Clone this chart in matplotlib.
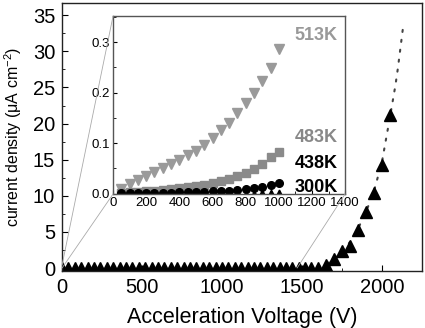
import matplotlib
matplotlib.use("Agg")
import matplotlib.pyplot as plt
from matplotlib.patches import ConnectionPatch
from matplotlib.ticker import MultipleLocator

plt.rcParams["font.family"] = ["Liberation Sans", "DejaVu Sans"]
plt.rcParams["mathtext.fontset"] = "custom"
plt.rcParams["mathtext.rm"] = "Liberation Sans"
plt.rcParams["mathtext.it"] = "Liberation Sans:italic"

# main curve: current density vs acceleration voltage
volt = [0, 40, 80, 120, 160, 200, 240, 280, 320, 360, 400, 440, 480, 520, 560,
        600, 640, 680, 720, 760, 800, 840, 880, 920, 960, 1000, 1040, 1080,
        1120, 1160, 1200, 1240, 1280, 1320, 1360, 1400, 1440, 1480, 1520,
        1560, 1600, 1650, 1700, 1750, 1800, 1850, 1900, 1950, 2000, 2050]
current = [0.0] * 41 + [0.4, 1.25, 2.4, 3.0, 5.3, 7.8, 10.4, 14.3, 21.2]

# fitted curve (dotted)
fit_volt = [1600, 1650, 1700, 1750, 1800, 1850, 1900, 1950, 2000, 2050,
            2085, 2100, 2133]
fit_current = [0.1, 0.5, 1.2, 2.2, 3.6, 5.4, 7.7, 10.6, 14.6, 20.8,
               25.3, 27.6, 33.4]

# inset: low-voltage region at several temperatures
inset_volt = [50, 100, 150, 200, 250, 300, 350, 400, 450, 500,
              550, 600, 650, 700, 750, 800, 850, 900, 950, 1000]
j_513 = [0.008, 0.019, 0.026, 0.034, 0.043, 0.051, 0.059, 0.067, 0.076, 0.085,
         0.097, 0.110, 0.125, 0.139, 0.160, 0.179, 0.199, 0.223, 0.249, 0.287]
j_483 = [0.001, 0.002, 0.003, 0.004, 0.005, 0.006, 0.008, 0.010, 0.012, 0.014,
         0.017, 0.020, 0.024, 0.029, 0.034, 0.041, 0.049, 0.059, 0.072, 0.082]
j_438 = [0.0005, 0.0007, 0.0009, 0.0011, 0.0013, 0.0015, 0.0018, 0.0021, 0.0025, 0.003,
         0.0035, 0.004, 0.0046, 0.0055, 0.0066, 0.008, 0.011, 0.0135, 0.017, 0.021]
j_300 = [0.0002, 0.0002, 0.0003, 0.0003, 0.0004, 0.0004, 0.0005, 0.0005, 0.0006, 0.0007,
         0.0008, 0.0009, 0.001, 0.0011, 0.0013, 0.0015, 0.0018, 0.0021, 0.0025, 0.003]
temps = ["513K", "483K", "438K", "300K"]

fig = plt.figure(figsize=(4.25, 3.28), dpi=100)
ax = fig.add_axes([0.146, 0.174, 0.8465, 0.817])

ax.plot(fit_volt, fit_current, linestyle=(0, (1, 3.8)), color="#444444", lw=1.5,
        dash_capstyle="round")
ax.plot(volt, current, "^", color="black", ms=8.5, mec="black")

ax.set_xlim(0, 2250)
ax.set_ylim(-0.4, 36.7)
ax.xaxis.set_major_locator(MultipleLocator(500))
ax.xaxis.set_minor_locator(MultipleLocator(250))
ax.yaxis.set_major_locator(MultipleLocator(5))
ax.yaxis.set_minor_locator(MultipleLocator(2.5))
ax.tick_params(which="both", direction="in", labelsize=14.5)
ax.tick_params(which="major", length=4, pad=5)
ax.tick_params(which="minor", length=2.5)
ax.set_xlabel("Acceleration Voltage (V)", fontsize=15.5, labelpad=7)
ax.set_ylabel("current density (μA cm$^{-2}$)", fontsize=11.5, labelpad=6)
for s in ax.spines.values():
    s.set_color("#222222")
    s.set_linewidth(1.0)

axin = fig.add_axes([0.266, 0.4085, 0.546, 0.5425])
axin.plot(inset_volt, j_513, "v", color="#9a9a9a", ms=7)
axin.plot(inset_volt, j_483, "s", color="#8a8a8a", ms=5.5)
axin.plot(inset_volt, j_438, "o", color="black", ms=5.5)
axin.plot(inset_volt, j_300, "^", color="black", ms=3.5)
axin.set_xlim(0, 1400)
axin.set_ylim(-0.001, 0.352)
axin.xaxis.set_major_locator(MultipleLocator(200))
axin.xaxis.set_minor_locator(MultipleLocator(100))
axin.yaxis.set_major_locator(MultipleLocator(0.1))
axin.yaxis.set_minor_locator(MultipleLocator(0.05))
axin.tick_params(which="both", direction="in", labelsize=9.5)
axin.tick_params(which="major", length=3, pad=2)
axin.tick_params(which="minor", length=2)
axin.yaxis.set_major_formatter(plt.FormatStrFormatter("%.1f"))
for s in axin.spines.values():
    s.set_color("#555555")
    s.set_linewidth(1.0)

label_pos = [0.893, 0.320, 0.169, 0.039]
label_col = ["#999999", "#888888", "black", "black"]
for name, yp, c in zip(temps, label_pos, label_col):
    axin.text(0.968, yp, name, transform=axin.transAxes, ha="right", va="center",
              fontsize=13, fontweight="bold", color=c)

# zoom indicator lines from the main axes to the inset corners
for xa, ya, xb, yb in [(0, 0.4, 0, 1), (0, 0.0, 0, 0), (1470, 0.0, 1, 0)]:
    con = ConnectionPatch(xyA=(xa, ya), coordsA=ax.transData,
                          xyB=(xb, yb), coordsB=axin.transAxes,
                          color="#aaaaaa", lw=0.6)
    fig.add_artist(con)

fig.savefig("out.png", dpi=100)
